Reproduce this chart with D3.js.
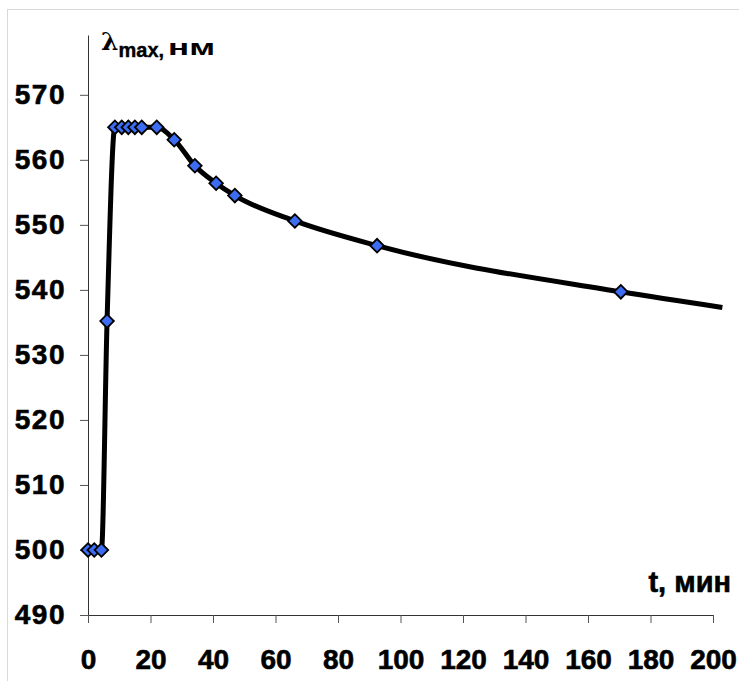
<!DOCTYPE html>
<html>
<head>
<meta charset="utf-8">
<script src="https://cdn.jsdelivr.net/npm/d3@7"></script>
<style>
    body { margin: 0; background: #fff; }
    svg { display: block; }
</style>
</head>
<body>
<svg id="chart" width="739" height="681"></svg>
<script>
// Measured points: time (min) and absorption maximum (nm)
const timeMin = [0, 2, 4.3, 6.1, 8.6, 10.8, 12.9, 15, 17.2, 22, 27.6, 34.2, 41, 47, 66.2, 92.5, 170.5];
const lambdaNm = [500, 500, 500, 535.2, 565, 565, 565, 565, 565, 565, 563.1, 559.1, 556.4, 554.5, 550.6, 546.8, 539.7];

// The smoothed curve runs a little past the last marker
const tailTime = [203];
const tailLambda = [537.3];

const xTicks = [0, 20, 40, 60, 80, 100, 120, 140, 160, 180, 200];
const yTicks = [490, 500, 510, 520, 530, 540, 550, 560, 570];

const svg = d3.select("#chart");
const font = "'Liberation Sans', Arial, sans-serif";

// thin grey frame of the chart area
svg.append("rect")
    .attr("x", 7.5)
    .attr("y", 9.5)
    .attr("width", 800)
    .attr("height", 800)
    .attr("fill", "none")
    .attr("stroke", "#d9d9d9");

const x = d3.scaleLinear().domain([0, 200]).range([88, 713]);
// axis line goes a bit above the last labelled tick
const y = d3.scaleLinear().domain([490, 579.2]).range([615, 35]);

// y axis
svg.append("g")
    .attr("transform", `translate(${x(0)},0)`)
    .call(d3.axisLeft(y).tickValues(yTicks).tickSize(8).tickSizeOuter(0).tickPadding(14))
    .call(g => g.select(".domain").attr("stroke", "#333"))
    .call(g => g.selectAll(".tick line").attr("stroke", "#555"))
    .call(g => g.selectAll("text")
        .attr("fill", "#000")
        .attr("font-family", font)
        .attr("font-weight", "bold")
        .attr("font-size", "28px")
        .attr("letter-spacing", "1.5px")
        .attr("stroke", "#000")
        .attr("stroke-width", 0.6));

// x axis
svg.append("g")
    .attr("transform", `translate(0,${y(490)})`)
    .call(d3.axisBottom(x).tickValues(xTicks).tickSize(8).tickSizeOuter(0).tickPadding(26))
    .call(g => g.select(".domain").attr("stroke", "#333"))
    .call(g => g.selectAll(".tick line").attr("stroke", "#555"))
    .call(g => g.selectAll("text")
        .attr("fill", "#000")
        .attr("font-family", font)
        .attr("font-weight", "bold")
        .attr("font-size", "28px")
        .attr("stroke", "#000")
        .attr("stroke-width", 0.6));

// smoothed curve through the markers
const curvePts = timeMin.map((t, i) => [t, lambdaNm[i]])
    .concat(tailTime.map((t, i) => [t, tailLambda[i]]));

svg.append("path")
    .datum(curvePts)
    .attr("fill", "none")
    .attr("stroke", "#000")
    .attr("stroke-width", 5)
    .attr("stroke-linejoin", "round")
    .attr("d", d3.line()
        .x(d => x(d[0]))
        .y(d => y(d[1]))
        .curve(d3.curveMonotoneX));

// diamond markers
svg.append("g")
    .selectAll("path")
    .data(timeMin)
    .join("path")
    .attr("d", d3.symbol(d3.symbolSquare).size(92))
    .attr("transform", (t, i) => `translate(${x(t)},${y(lambdaNm[i])}) rotate(45)`)
    .attr("fill", "#3b6cf2")
    .attr("stroke", "#000")
    .attr("stroke-width", 1.8);

// axis titles
const yTitle = svg.append("text")
    .attr("x", 101)
    .attr("y", 50)
    .attr("fill", "#000");
yTitle.append("tspan")
    .attr("font-family", "'DejaVu Serif', serif")
    .attr("font-weight", "bold")
    .attr("font-size", "25px")
    .text("λ");
yTitle.append("tspan")
    .attr("dy", 7)
    .attr("font-family", font)
    .attr("font-weight", "bold")
    .attr("font-size", "20px")
    .attr("stroke", "#000")
    .attr("stroke-width", 0.4)
    .text("max,");

svg.append("text")
    .attr("x", 168)
    .attr("y", 55)
    .attr("font-family", font)
    .attr("font-weight", "bold")
    .attr("font-size", "22px")
    .attr("textLength", 47)
    .attr("lengthAdjust", "spacingAndGlyphs")
    .text("нм");

svg.append("text")
    .attr("x", 731)
    .attr("y", 592)
    .attr("text-anchor", "end")
    .attr("font-family", font)
    .attr("font-weight", "bold")
    .attr("font-size", "29px")
    .attr("stroke", "#000")
    .attr("stroke-width", 0.6)
    .text("t, мин");
</script>
</body>
</html>
